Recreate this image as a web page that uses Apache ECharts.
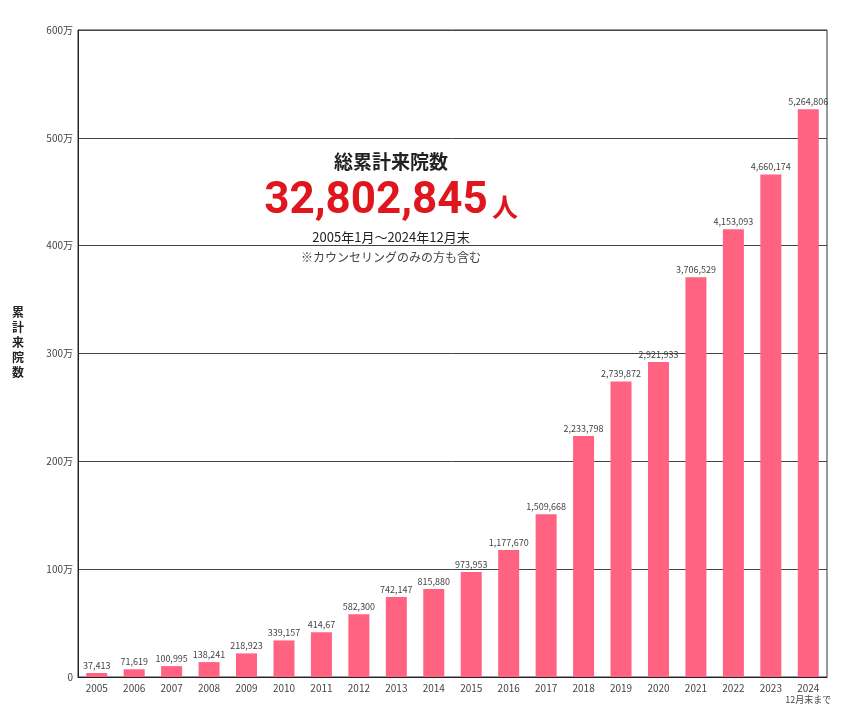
<!DOCTYPE html>
<html><head><meta charset="utf-8">
<script src="https://cdn.jsdelivr.net/npm/echarts@6/dist/echarts.min.js"></script>
<style>html,body{margin:0;background:#fff}#c{width:850px;height:706px}</style>
</head><body><div id="c"></div>
<script>
const years = ['2005','2006','2007','2008','2009','2010','2011','2012','2013','2014','2015','2016','2017','2018','2019','2020','2021','2022','2023','2024'];
const values = [37413,71619,100995,138241,218923,339157,414670,582300,742147,815880,973953,1177670,1509668,2233798,2739872,2921933,3706529,4153093,4660174,5264806];
const valueLabels = ['37,413','71,619','100,995','138,241','218,923','339,157','414,67','582,300','742,147','815,880','973,953','1,177,670','1,509,668','2,233,798','2,739,872','2,921,933','3,706,529','4,153,093','4,660,174','5,264,806'];
const yTicks = {0:'0',1000000:'100万',2000000:'200万',3000000:'300万',4000000:'400万',5000000:'500万',6000000:'600万'};
const F = '"Noto Sans CJK JP", sans-serif';
const chart = echarts.init(document.getElementById('c'));
chart.setOption({
  animation:false,
  grid:{left:78,right:23,top:30,bottom:29,show:true,borderColor:'#333',borderWidth:1},
  xAxis:{type:'category',data:years,
    axisLine:{lineStyle:{color:'#222'}},axisTick:{show:false},
    axisLabel:{interval:0,color:'#444',fontSize:10,fontFamily:F,margin:5,lineHeight:12,
      formatter:v=>v==='2024'?'2024\n{s|12月末まで}':v,rich:{s:{fontSize:9,color:'#444',fontFamily:F}}}},
  yAxis:{type:'value',min:0,max:6000000,interval:1000000,
    axisLine:{show:true,lineStyle:{color:'#222'}},axisTick:{show:false},
    splitLine:{lineStyle:{color:'#444',width:1}},
    axisLabel:{color:'#444',fontSize:10,fontFamily:F,margin:5,formatter:v=>yTicks[v]}},
  series:[{type:'bar',data:values,barWidth:21,itemStyle:{color:'#ff6381'},
    label:{show:true,position:'top',distance:3,fontSize:9,color:'#444',fontFamily:F,
      formatter:p=>valueLabels[p.dataIndex]}}],
  graphic:[
    {type:'text',left:12,top:305,style:{text:'累\n計\n来\n院\n数',font:'bold 12px '+F,fill:'#222',lineHeight:15}},
    {type:'text',x:391,y:162,style:{text:'総累計来院数',font:'bold 19px '+F,fill:'#222',align:'center',verticalAlign:'middle'}},
    {type:'text',x:376,y:202,style:{text:'32,802,845',font:'bold 44px Roboto, sans-serif',fill:'#e0161e',align:'center',verticalAlign:'middle'}},
    {type:'text',x:505,y:207,style:{text:'人',font:'bold 26px '+F,fill:'#e0161e',align:'center',verticalAlign:'middle'}},
    {type:'text',x:391,y:237,style:{text:'2005年1月～2024年12月末',font:'13px '+F,fill:'#222',align:'center',verticalAlign:'middle'}},
    {type:'text',x:391,y:257,style:{text:'※カウンセリングのみの方も含む',font:'12px '+F,fill:'#444',align:'center',verticalAlign:'middle'}}
  ]
});
</script></body></html>
